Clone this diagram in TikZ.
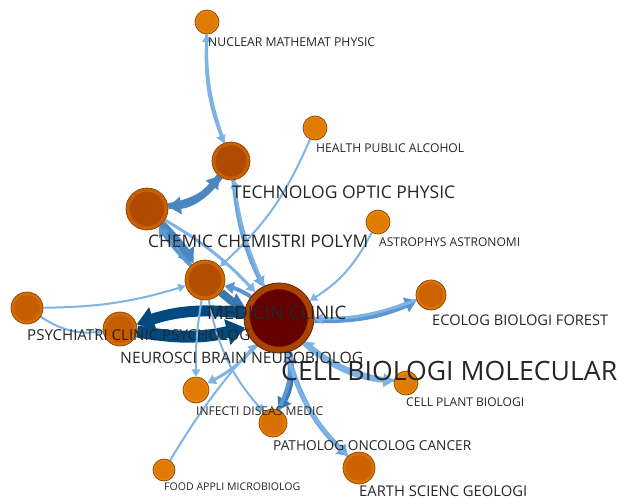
\documentclass[tikz,border=0pt]{standalone}
\usepackage{fontspec}
\usepackage{graphicx}
\setmainfont{Open Sans}
\usetikzlibrary{arrows.meta}
\pgfdeclarelayer{edges}
\pgfdeclarelayer{labels}
\pgfsetlayers{edges,main,labels}

\definecolor{nodeline}{HTML}{8A4200}
\definecolor{bigline}{HTML}{5A1A00}
\definecolor{ringS}{HTML}{E8860A}
\definecolor{coreS}{HTML}{E07B00}
\definecolor{ringP}{HTML}{E07E00}
\definecolor{coreP}{HTML}{D87000}
\definecolor{ringE}{HTML}{DA7400}
\definecolor{coreE}{HTML}{CC6300}
\definecolor{ringN}{HTML}{D46D00}
\definecolor{coreN}{HTML}{C65E00}
\definecolor{ringM}{HTML}{CC6600}
\definecolor{coreM}{HTML}{B34D00}
\definecolor{ringT}{HTML}{C86000}
\definecolor{coreT}{HTML}{B04A00}
\definecolor{ringB}{HTML}{A84300}
\definecolor{coreB}{HTML}{640000}
\definecolor{elight}{HTML}{7EB3E6}
\definecolor{elight2}{HTML}{6DA6DD}
\definecolor{emid}{HTML}{5A96D0}
\definecolor{emid2}{HTML}{4A86C0}
\definecolor{emid3}{HTML}{3A78B4}
\definecolor{edark}{HTML}{004A80}
\definecolor{labeltext}{HTML}{262626}

\newcommand\gnode[7]{%
  \node[circle, inner sep=0pt, minimum size={2*#4 pt}, fill=#5, draw=#7, line width=0.7pt] (#1) at (#2,-#3) {};
  \fill[#6] (#1.center) circle ({0.82*#4 pt});
}
\newcommand\glabel[5]{%
  \begin{pgfonlayer}{labels}
  \node[lbl] (#1) at (#2,-#3) {\resizebox{#4pt}{!}{#5}};
  \end{pgfonlayer}
}

\tikzset{
  lbl/.style={anchor=west, inner sep=0pt, text=labeltext},
  ed/.style 2 args={draw=#1, line width=#2,
     -{Triangle[length=5pt 1.1, width=5pt 1.7]}},
}

\begin{document}
\begin{tikzpicture}[x=1pt,y=1pt]
\useasboundingbox (0,0) rectangle (619,-499);

% nodes
\gnode{NUC}{207}{22}{12}{ringS}{coreS}{nodeline}
\gnode{HEALTH}{315}{128}{12}{ringS}{coreS}{nodeline}
\gnode{TECH}{231}{161}{19}{ringT}{coreT}{nodeline}
\gnode{CHEM}{147}{209}{21}{ringT}{coreT}{nodeline}
\gnode{ASTRO}{378}{222}{12}{ringS}{coreS}{nodeline}
\gnode{MED}{205}{280}{20}{ringM}{coreM}{nodeline}
\gnode{PSY}{27}{308}{16}{ringN}{coreN}{nodeline}
\gnode{NEURO}{120}{329}{17}{ringN}{coreN}{nodeline}
\gnode{BIG}{279}{318}{35}{ringB}{coreB}{bigline}
\gnode{ECO}{431}{295}{15}{ringE}{coreE}{nodeline}
\gnode{CELLP}{406}{383}{12}{ringS}{coreS}{nodeline}
\gnode{INF}{196}{390}{13}{ringS}{coreS}{nodeline}
\gnode{PATH}{273}{423}{14}{ringP}{coreP}{nodeline}
\gnode{FOOD}{164}{470}{11}{ringS}{coreS}{nodeline}
\gnode{EARTH}{359}{468}{16}{ringE}{coreE}{nodeline}

% edges
\begin{pgfonlayer}{edges}
\draw[ed={elight}{2.5pt}] (NUC) to[bend right=12] (TECH);
\draw[ed={elight}{2.5pt}] (TECH) to[bend left=10] (NUC);
\draw[ed={emid2}{7pt}] (TECH) to[bend left=24] (CHEM);
\draw[ed={emid2}{6pt}] (CHEM) to[bend right=22] (TECH);
\draw[ed={elight2}{4pt}] (TECH) to[bend right=10] (BIG);
\draw[ed={elight}{2.5pt}] (BIG) to[bend left=8] (TECH);
\draw[ed={elight}{2pt}] (HEALTH) to[bend left=12] (MED);
\draw[ed={elight}{2pt}] (ASTRO) to[bend left=15] (BIG);
\draw[ed={emid2}{8pt}] (CHEM) to[bend left=5] (MED);
\draw[ed={emid}{4pt}] (MED) to[bend left=5] (CHEM);
\draw[ed={elight}{3pt}] (CHEM) to[bend left=8] (BIG);
\draw[ed={emid3}{8pt}] (MED) to[bend right=10] (BIG);
\draw[ed={emid}{4pt}] (BIG) to[bend right=10] (MED);
\draw[ed={elight}{2pt}] (PSY) to[bend right=8] (MED);
\draw[ed={elight}{2pt}] (PSY) to[bend right=20] (NEURO);
\draw[ed={edark}{12pt}] (NEURO) to[bend right=12] (BIG);
\draw[ed={edark}{11pt}] (BIG) to[bend right=12] (NEURO);
\draw[ed={emid}{6pt}] (BIG) to[bend right=12] (ECO);
\draw[ed={elight}{3pt}] (ECO) to[bend left=10] (BIG);
\draw[ed={elight}{5pt}] (BIG) to[bend right=18] (CELLP);
\draw[ed={elight}{3pt}] (CELLP) to[bend left=15] (BIG);
\draw[ed={elight}{3pt}] (BIG) to[bend left=10] (INF);
\draw[ed={elight}{2pt}] (MED) to[bend right=5] (INF);
\draw[ed={emid3}{6pt}] (BIG) to[bend left=20] (PATH);
\draw[ed={emid}{4pt}] (PATH) to[bend right=18] (BIG);
\draw[ed={elight}{2pt}] (MED) to[bend right=15] (PATH);
\draw[ed={elight2}{5pt}] (BIG) to[bend right=15] (EARTH);
\draw[ed={elight}{3pt}] (EARTH) to[bend left=15] (BIG);
\draw[ed={elight}{2pt}] (FOOD) to[bend left=5] (BIG);
\end{pgfonlayer}

% labels
\glabel{lNUC}{208}{42.5}{167}{NUCLEAR MATHEMAT PHYSIC}
\glabel{lHEALTH}{316}{148.5}{148}{HEALTH PUBLIC ALCOHOL}
\glabel{lTECH}{232}{192}{223}{TECHNOLOG OPTIC PHYSIC}
\glabel{lCHEM}{148}{241}{220}{CHEMIC CHEMISTRI POLYM}
\glabel{lASTRO}{379}{242.5}{141}{ASTROPHYS ASTRONOMI}
\glabel{lMED}{207}{313}{139}{MEDICIN CLINIC}
\glabel{lPSY}{27}{335}{223}{PSYCHIATRI CLINIC PSYCHOLOG}
\glabel{lNEURO}{120}{357.5}{243}{NEUROSCI BRAIN NEUROBIOLOG}
\glabel{lBIG}{281}{371}{336}{CELL BIOLOGI MOLECULAR}
\glabel{lECO}{432}{320}{176}{ECOLOG BIOLOGI FOREST}
\glabel{lCELLP}{406}{402.5}{118}{CELL PLANT BIOLOGI}
\glabel{lINF}{196}{411}{127}{INFECTI DISEAS MEDIC}
\glabel{lPATH}{273}{446}{198}{PATHOLOG ONCOLOG CANCER}
\glabel{lFOOD}{164}{487}{136}{FOOD APPLI MICROBIOLOG}
\glabel{lEARTH}{359}{491}{168}{EARTH SCIENC GEOLOGI}
\end{tikzpicture}
\end{document}
